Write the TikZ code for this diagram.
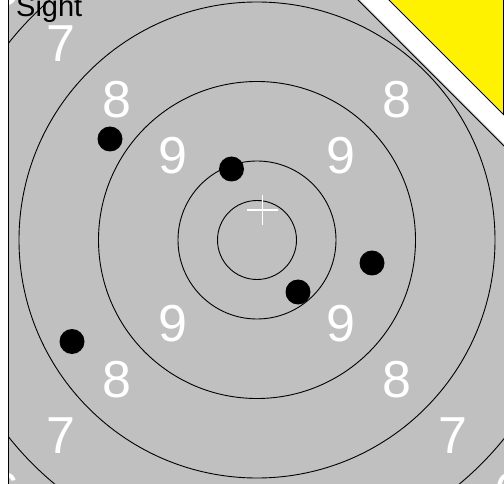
\documentclass[tikz,border=0pt]{standalone}
\usepackage{fontspec}
\setmainfont{Liberation Sans}
\usetikzlibrary{calc}
\definecolor{targetgray}{HTML}{C0C0C0}
\begin{document}
\begin{tikzpicture}[x=1pt,y=-1pt,
  ring/.style={draw=black,line width=0.9pt},
  num/.style={text=white,font=\fontsize{52}{52}\selectfont,inner sep=0pt,anchor=center},
  shot/.style={circle,fill=black,minimum size=25pt,inner sep=0pt},
  edge/.style={draw=black,line width=1pt}]
\useasboundingbox (0,0) rectangle (504,484);
\clip (0,0) rectangle (504,484);
\fill[white] (0,0) rectangle (504,484);
\fill[targetgray] (8,-2) rectangle (506,486);
\begin{scope}
\clip (8,-2) rectangle (506,486);
\coordinate (c) at (257,240);
\foreach \r in {39.5,79,158.5,238,317}{\draw[ring] (c) circle[radius=\r];}
% labels
\foreach \d/\n in {84/9,140/8,196/7,252/6}{
  \node[num] (nw\n) at ($(c)+(-\d,-\d)$) {\n};
  \node[num] (ne\n) at ($(c)+(\d,-\d)$) {\n};
  \node[num] (sw\n) at ($(c)+(-\d,\d)$) {\n};
  \node[num] (se\n) at ($(c)+(\d,\d)$) {\n};
}
\end{scope}
\draw[edge] (8,-2) -- (8,486);
% shots
\node[shot] (s1) at (110,139) {};
\node[shot] (s2) at (231.5,169) {};
\node[shot] (s3) at (372,263) {};
\node[shot] (s4) at (298,292) {};
\node[shot] (s5) at (72,341.5) {};
% aim cross
\coordinate (x0) at (262.5,210);
\draw[white,line width=1.2pt] ($(x0)+(-15.5,0)$) -- ($(x0)+(15.5,0)$);
\draw[white,line width=1.2pt] ($(x0)+(0,-15)$) -- ($(x0)+(0,15)$);
% corner fold
\fill[white] (358,-2) -- (506,146) -- (506,-2) -- cycle;
\draw[edge] (356,-2) -- (506,148);
\fill[yellow] (389,-1) -- (503.5,113.5) -- (503.5,-1) -- cycle;
\draw[edge] (387,-2) -- (503.5,114.5) -- (503.5,-2);
\node[anchor=base west,inner sep=0pt,font=\fontsize{29}{29}\selectfont] (sight) at (16,16.5) {Sight};
\end{tikzpicture}
\end{document}
